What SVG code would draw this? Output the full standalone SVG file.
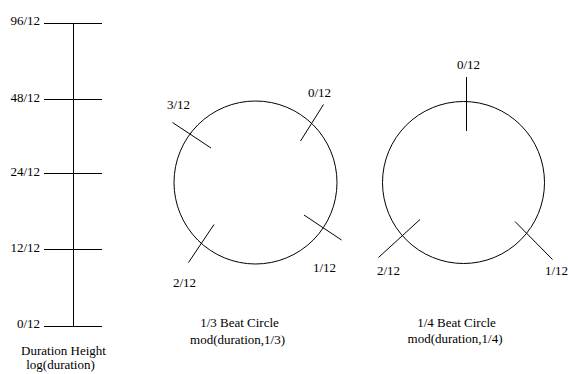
<svg xmlns="http://www.w3.org/2000/svg" width="568" height="374" viewBox="0 0 568 374">
  <style>
    .ln { stroke: #000; stroke-width: 1; fill: none; }
    .lb { font-family: "Liberation Serif", "Times New Roman", serif; font-size: 13px; fill: #000; }
    .mid { text-anchor: middle; }
    .end { text-anchor: end; }
  </style>
  <rect width="568" height="374" fill="#fff"/>

  <!-- Duration height scale -->
  <g id="duration-scale">
    <line class="ln" x1="73.5" y1="23.5" x2="73.5" y2="326.5"/>
    <line class="ln" x1="44" y1="23.5" x2="102" y2="23.5"/>
    <line class="ln" x1="44" y1="99.5" x2="102" y2="99.5"/>
    <line class="ln" x1="44" y1="173.5" x2="102" y2="173.5"/>
    <line class="ln" x1="44" y1="249.5" x2="102" y2="249.5"/>
    <line class="ln" x1="44" y1="326.5" x2="102" y2="326.5"/>
    <text class="lb end" x="40" y="25">96/12</text>
    <text class="lb end" x="40" y="101.5">48/12</text>
    <text class="lb end" x="40" y="175.5">24/12</text>
    <text class="lb end" x="40" y="251.5">12/12</text>
    <text class="lb end" x="40" y="328">0/12</text>
    <text class="lb mid" x="63.5" y="354.5">Duration Height</text>
    <text class="lb mid" x="60.5" y="369">log(duration)</text>
  </g>

  <!-- 1/3 beat circle -->
  <g id="beat-circle-third">
    <circle class="ln" cx="255.5" cy="182.5" r="81.5"/>
    <line class="ln" x1="172.5" y1="122.5" x2="211" y2="148"/>
    <line class="ln" x1="323.5" y1="104.5" x2="300.5" y2="141"/>
    <line class="ln" x1="304" y1="215" x2="341.5" y2="240"/>
    <line class="ln" x1="188.5" y1="262.5" x2="214" y2="224.5"/>
    <text class="lb" x="167" y="109">3/12</text>
    <text class="lb" x="308" y="97">0/12</text>
    <text class="lb" x="313" y="272">1/12</text>
    <text class="lb" x="173" y="287">2/12</text>
    <text class="lb mid" x="239.5" y="327">1/3 Beat Circle</text>
    <text class="lb mid" x="237.5" y="344">mod(duration,1/3)</text>
  </g>

  <!-- 1/4 beat circle -->
  <g id="beat-circle-quarter">
    <circle class="ln" cx="463.5" cy="182.5" r="81"/>
    <line class="ln" x1="466.5" y1="77" x2="466.5" y2="131"/>
    <line class="ln" x1="378.5" y1="257.5" x2="420" y2="219.5"/>
    <line class="ln" x1="515" y1="221.5" x2="552.5" y2="259.5"/>
    <text class="lb" x="457" y="69">0/12</text>
    <text class="lb" x="377" y="275">2/12</text>
    <text class="lb" x="545" y="275">1/12</text>
    <text class="lb mid" x="456.5" y="327">1/4 Beat Circle</text>
    <text class="lb mid" x="455" y="343">mod(duration,1/4)</text>
  </g>
</svg>
